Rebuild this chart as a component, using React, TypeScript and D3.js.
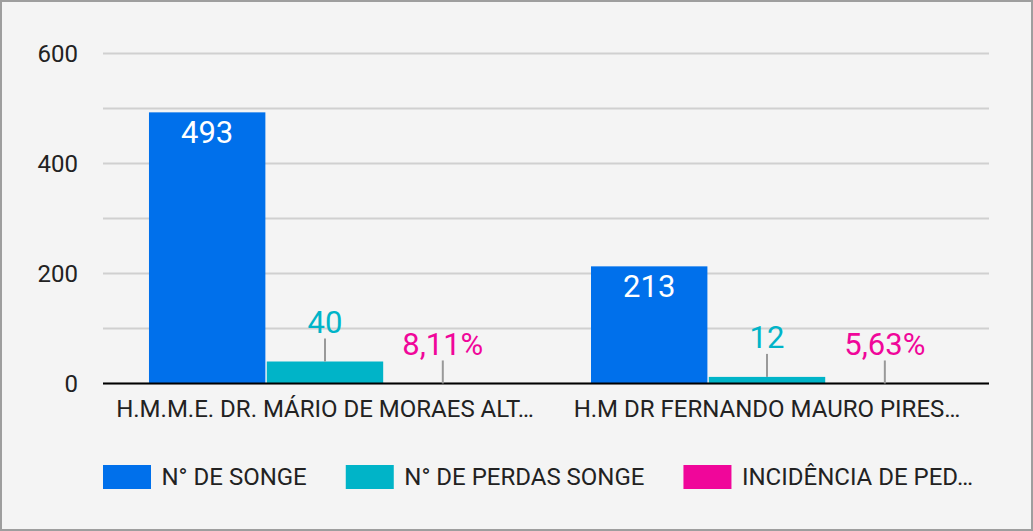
import React, { useEffect, useRef } from 'react';
import * as d3 from 'd3';

// categories (truncated as shown in the chart)
const hospitals = ['H.M.M.E. DR. MÁRIO DE MORAES ALT…', 'H.M DR FERNANDO MAURO PIRES…'];
const seriesNames = ['N° DE SONGE', 'N° DE PERDAS SONGE', 'INCIDÊNCIA DE PED…'];
const songe = [493, 213];
const perdas = [40, 12];
const incidencia = [0.0811, 0.0563];
const yTicks = [0, 200, 400, 600];
const gridTicks = [0, 100, 200, 300, 400, 500, 600];
const colors = ['#0070eb', '#00b4c8', '#f0069a'];

const width = 1033;
const height = 531;
const font = 'Roboto, sans-serif';

const ptBR = d3.formatLocale({ decimal: ',', thousands: '.', grouping: [3], currency: ['R$', ''] });
const fmtPct = ptBR.format('.2%');
const fmtNum = ptBR.format('d');

export default function App() {
  const ref = useRef<SVGSVGElement>(null);

  useEffect(() => {
    const svg = d3.select(ref.current);
    svg.selectAll('*').remove();

    svg.append('rect')
      .attr('width', width).attr('height', height).attr('fill', '#f4f4f4');
    svg.append('rect')
      .attr('x', 1).attr('y', 1).attr('width', width - 2).attr('height', height - 2)
      .attr('fill', 'none').attr('stroke', '#9e9e9e').attr('stroke-width', 2);

    const left = 103, right = 989, top = 53.5, bottom = 383.5;

    const y = d3.scaleLinear().domain([0, 600]).range([bottom, top]);
    const x0 = d3.scaleBand().domain(hospitals).range([left, right]).paddingInner(0.2036).paddingOuter(0.104);
    const x1 = d3.scaleBand().domain(seriesNames).range([0, x0.bandwidth()]).paddingInner(0.012);

    // gridlines
    svg.append('g').selectAll('line').data(gridTicks).enter().append('line')
      .attr('x1', left).attr('x2', right)
      .attr('y1', d => y(d)).attr('y2', d => y(d))
      .attr('stroke', '#d0d0d0').attr('stroke-width', 2);

    // y labels
    svg.append('g').selectAll('text').data(yTicks).enter().append('text')
      .attr('x', 78).attr('y', d => y(d)).attr('dy', '0.36em')
      .attr('text-anchor', 'end')
      .attr('font-family', font).attr('font-size', 24).attr('fill', '#222')
      .text(d => d);

    const rows = hospitals.map((h, i) => [
      { h, s: seriesNames[0], v: songe[i], label: fmtNum(songe[i]), c: colors[0] },
      { h, s: seriesNames[1], v: perdas[i], label: fmtNum(perdas[i]), c: colors[1] },
      { h, s: seriesNames[2], v: incidencia[i], label: fmtPct(incidencia[i]), c: colors[2] },
    ]).flat();

    const bars = svg.append('g');
    bars.selectAll('rect').data(rows).enter().append('rect')
      .attr('x', d => (x0(d.h) as number) + (x1(d.s) as number))
      .attr('width', x1.bandwidth())
      .attr('y', d => y(d.v))
      .attr('height', d => bottom - y(d.v))
      .attr('fill', d => d.c);

    // baseline
    svg.append('line')
      .attr('x1', left).attr('x2', right).attr('y1', bottom).attr('y2', bottom)
      .attr('stroke', '#000').attr('stroke-width', 2);

    // data labels
    const lab = svg.append('g');
    rows.forEach(d => {
      const cx = (x0(d.h) as number) + (x1(d.s) as number) + x1.bandwidth() / 2;
      const yt = y(d.v);
      const inside = bottom - yt > 40;
      if (!inside) {
        lab.append('line')
          .attr('x1', cx).attr('x2', cx).attr('y1', yt).attr('y2', yt - 23)
          .attr('stroke', '#999').attr('stroke-width', 2);
      }
      lab.append('text')
        .attr('x', cx).attr('y', inside ? yt + 30.5 : yt - 28.5)
        .attr('text-anchor', 'middle')
        .attr('font-family', font).attr('font-size', 31)
        .attr('fill', inside ? '#fff' : d.c)
        .text(d.label);
    });

    // category labels
    svg.append('g').selectAll('text').data(hospitals).enter().append('text')
      .attr('x', d => (x0(d) as number) + x0.bandwidth() / 2)
      .attr('y', 416.5)
      .attr('text-anchor', 'middle')
      .attr('font-family', font).attr('font-size', 24).attr('fill', '#222')
      .text(d => d);

    // legend
    const leg = svg.append('g');
    let lx = left;
    seriesNames.forEach((s, i) => {
      leg.append('rect')
        .attr('x', lx).attr('y', 465).attr('width', 48).attr('height', 24)
        .attr('fill', colors[i]);
      const t = leg.append('text')
        .attr('x', lx + 58.5).attr('y', 485)
        .attr('font-family', font).attr('font-size', 24).attr('fill', '#222')
        .text(s);
      const w = (t.node() as SVGTextElement).getComputedTextLength();
      lx = lx + 58.5 + w + 39;
    });
  }, []);

  return (
    <svg
      ref={ref}
      width={width}
      height={height}
      style={{ position: 'fixed', left: 0, top: 0, display: 'block' }}
    />
  );
}
